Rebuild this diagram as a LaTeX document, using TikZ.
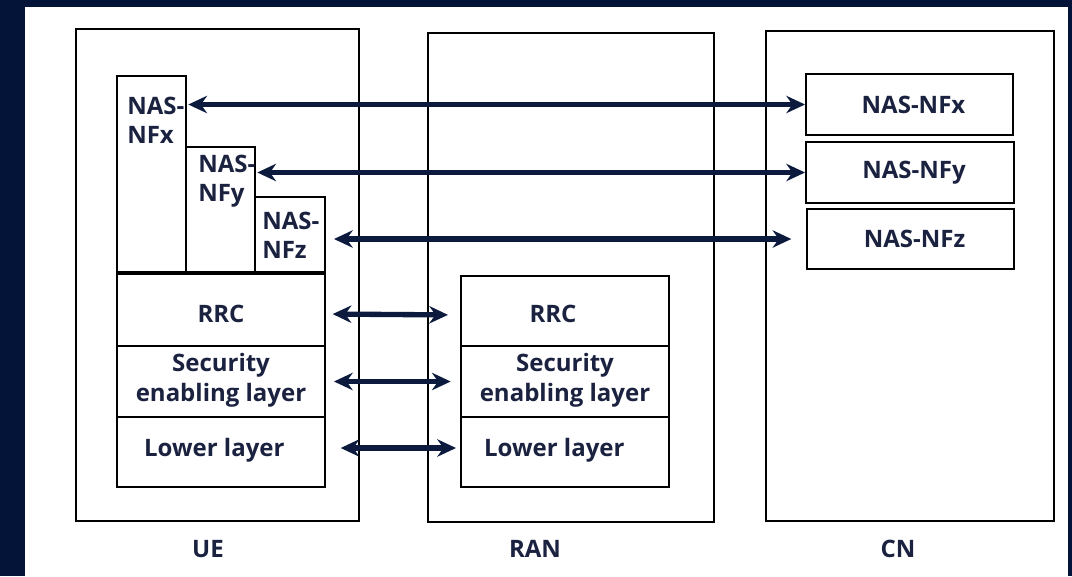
\documentclass[tikz,border=0pt]{standalone}
\usepackage{fontspec}
\setmainfont{Open Sans}
\usetikzlibrary{arrows.meta,fit}
\definecolor{navy}{RGB}{3,20,56}
\definecolor{ink}{RGB}{26,34,64}
\definecolor{arrowc}{RGB}{12,26,62}
\begin{document}
\begin{tikzpicture}[x=0.75pt,y=-0.75pt,
  box/.style={draw=black, line width=1.5pt, fill=white, inner sep=0pt},
  lbl/.style={font=\bfseries\fontsize{18}{22}\selectfont, text=ink, align=center, inner sep=0pt},
  nas/.style={lbl, align=left, anchor=north west},
  biarrow/.style={{Stealth[length=14pt,width=13pt]}-{Stealth[length=14pt,width=13pt]}, line width=4pt, draw=arrowc}]
\useasboundingbox (0,0) rectangle (1072,576);
% frame
\fill[navy] (0,0) rectangle (1072,576);
\fill[white] (25,7) rectangle (1068,576);

% entities
\node[box, fit={(76,29) (359,521)}] (ue) {};
\node[box, fit={(428,33) (714,522)}] (ran) {};
\node[box, fit={(766,31) (1054,521)}] (cn) {};

% UE NAS stack
\node[box, fit={(117,76) (186,274)}] (uex) {};
\node[box, fit={(186,147) (255,274)}] (uey) {};
\node[box, fit={(255,197) (325,274)}] (uez) {};
\node[nas] (uextxt) at (127,97) {NAS-\\NFx};
\node[nas] (ueytxt) at (198,155) {NAS-\\NFy};
\node[nas] (ueztxt) at (262,212) {NAS-\\NFz};

% UE lower stack
\node[box, fit={(117,274) (325,346)}] (uerrc) {};
\node[box, fit={(117,346) (325,417)}] (uesec) {};
\node[box, fit={(117,417) (325,487)}] (uelow) {};
\draw[line width=3pt] (uerrc.north west) -- (uerrc.north east);
\node[lbl] (uerrctxt) at ([yshift=-3pt]uerrc) {RRC};
\node[lbl] (uesectxt) at ([yshift=1pt]uesec) {Security\\enabling layer};
\node[lbl] (uelowtxt) at ([xshift=-5pt,yshift=1pt]uelow) {Lower layer};

% RAN stack
\node[box, fit={(461,276) (669,346)}] (ranrrc) {};
\node[box, fit={(461,346) (669,417)}] (ransec) {};
\node[box, fit={(461,417) (669,487)}] (ranlow) {};
\node[lbl] (ranrrctxt) at ([xshift=-9pt,yshift=-2pt]ranrrc) {RRC};
\node[lbl] (ransectxt) at ([yshift=1pt]ransec) {Security\\enabling layer};
\node[lbl] (ranlowtxt) at ([xshift=-8pt,yshift=1pt]ranlow) {Lower layer};

% CN NAS functions
\node[box, fit={(806,74) (1013,135)}] (cnx) {};
\node[box, fit={(806,142) (1014,203)}] (cny) {};
\node[box, fit={(807,209) (1014,269)}] (cnz) {};
\node[lbl] (cnxtxt) at ([xshift=3pt]cnx) {NAS-NFx};
\node[lbl] (cnytxt) at ([xshift=3pt]cny) {NAS-NFy};
\node[lbl] (cnztxt) at ([xshift=3pt]cnz) {NAS-NFz};

% labels
\node[lbl] (uelbl) at (208,549) {UE};
\node[lbl] (ranlbl) at (535,549) {RAN};
\node[lbl] (cnlbl) at (898,549) {CN};

% peer connections
\draw[biarrow, shorten <=1pt] (cnx.west -| uex.east) -- (cnx.west);
\draw[biarrow, shorten <=1pt] (cny.west -| uey.east) -- (cny.west);
\draw[biarrow, shorten <=6pt, shorten >=11pt] (cnz.west -| uez.east) -- (cnz.west);
\draw[biarrow, shorten <=5pt, shorten >=9pt] ([yshift=-3pt]uerrc.east) -- ([yshift=-3pt]ranrrc.west);
\draw[biarrow, shorten <=6pt, shorten >=7pt] (uesec.east) -- (ransec.west);
\draw[biarrow, shorten <=11pt, shorten >=3pt] ([yshift=3pt]uelow.east) -- ([yshift=3pt]ranlow.west);
\end{tikzpicture}
\end{document}
